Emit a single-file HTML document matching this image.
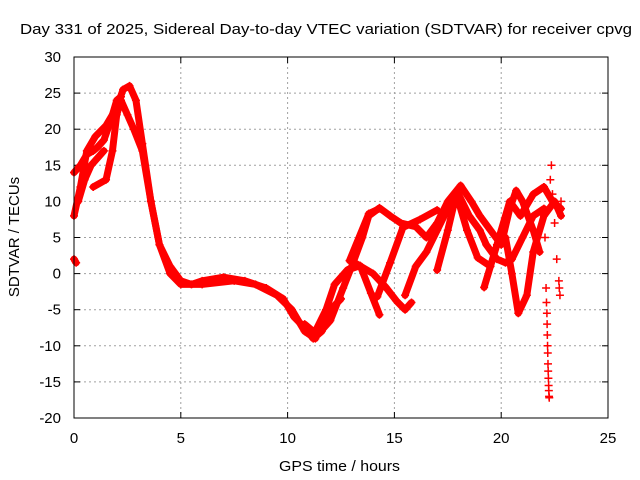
<!DOCTYPE html>
<html><head><meta charset="utf-8"><style>
body{margin:0;background:#fff;}
svg{display:block;font-family:"Liberation Sans",sans-serif;}
</style></head><body>
<svg id="chart" width="640" height="480">
<text x="20" y="34" font-size="15" textLength="612" lengthAdjust="spacingAndGlyphs">Day 331 of 2025, Sidereal Day-to-day VTEC variation (SDTVAR) for receiver cpvg</text>
<text x="279" y="471" font-size="15" textLength="121" lengthAdjust="spacingAndGlyphs">GPS time / hours</text>
<text transform="translate(19,237) rotate(-90)" font-size="15" text-anchor="middle">SDTVAR / TECUs</text>
<g id="grid"></g><g id="ticks"></g><g id="marks"></g>
<rect x="74" y="57" width="534" height="361" fill="none" stroke="#000" stroke-width="1"/>
</svg>
<script>
const xTicks=[0,5,10,15,20,25];
const yTicks=[30,25,20,15,10,5,0,-5,-10,-15,-20];
const trackA=[[0,8],[0.3,12],[0.6,17],[1,19],[1.5,20.5],[2,23],[2.3,25.5],[2.6,26],[2.9,24],[3.2,18],[3.6,10],[4,4],[4.5,1],[5,-1],[5.5,-1.5],[6,-1],[7,-0.5],[8,-1],[9,-2],[9.8,-3.5],[10.3,-6],[10.8,-7.5],[11.2,-9],[11.6,-8],[12,-5],[12.5,-3.5]];
const trackB=[[0.9,12],[1.5,13],[1.8,17],[2,22],[2.2,24],[2.5,22],[2.8,20],[3.2,17],[3.6,10],[4,4],[4.5,0],[5,-1.5],[6,-1.5],[7.5,-1],[8.5,-1.5],[9.5,-3],[10.2,-5],[10.8,-8],[11.3,-9]];
const trackC=[[0.2,10],[0.5,13],[0.8,15],[1.1,16],[1.4,17]];
const trackD=[[0,14],[0.3,15],[0.6,16.5],[0.9,17],[1.1,17.5],[1.4,18.5],[1.7,21],[2,24],[2.2,24.5]];
const trackE=[[10.8,-7],[11.4,-8.5],[12,-6.5],[12.6,-2],[13,1],[13.5,5],[13.8,8],[14.3,9.1],[14.8,8],[15.3,7],[16,6.5],[16.5,5],[17,7],[17.5,10],[18.1,12.2],[18.6,10],[19,8],[19.5,6],[20,4],[20.4,9],[20.7,11.5],[21,10],[21.5,6],[21.8,3]];
const trackF=[[11.3,-8],[11.8,-5],[12.2,-1.5],[12.8,0.5],[13.4,1.1],[13.9,-2.7],[14.3,-5.7]];
const trackG=[[12.9,1.8],[13.8,8.3],[14.3,9]];
const trackH=[[14.2,-3.2],[14.8,1.5],[15.4,6.4],[16.2,7.5],[17,8.8]];
const trackI=[[13.2,1.4],[14,0],[14.6,-1.9],[15.1,-3.8],[15.5,-5],[15.8,-4]];
const trackJ=[[15.5,-3],[16,1],[16.5,3],[17,6],[17.5,9],[18,11],[18.5,8],[19,6],[19.3,4],[19.8,2],[20.2,1.5],[20.5,2],[21,5],[21.5,8],[22,9]];
const trackK=[[17,0.5],[17.5,6],[17.9,11],[18.4,6],[18.9,2.2],[19.5,1]];
const trackL=[[20.2,5],[20.5,0],[20.8,-5.5],[21.2,-3],[21.5,3],[22,8],[22.5,10],[22.8,8]];
const trackM=[[19.2,-1.9],[19.8,4],[20.4,10],[20.9,8],[21.5,11],[22,12],[22.4,10],[22.8,9]];
const trackN=[[0,2],[0.1,1.5]];
const spikeX=[22.0,22.05,22.1,22.12,22.14,22.15,22.16,22.17,22.18,22.19,22.2,22.21,22.22,22.23,22.24,22.25,22.3,22.35,22.4,22.5,22.6,22.7,22.72,22.75,22.8];
const spikeY=[12,5,-2,-4,-5.5,-7,-8.5,-10,-11,-12.5,-13.5,-14.5,-15.5,-16.2,-17,-17.2,13,15,11,7,2,-1,-2,-3,10];
const tracks=[trackA,trackB,trackC,trackD,trackE,trackF,trackG,trackH,trackI,trackJ,trackK,trackL,trackM,trackN];
const X=v=>74+v*534/25, Y=v=>418-(v+20)*361/50;
const NS="http://www.w3.org/2000/svg";
const mk=(t,a,p)=>{const e=document.createElementNS(NS,t);for(const k in a)e.setAttribute(k,a[k]);p.appendChild(e);return e;};
const grid=document.getElementById('grid'),ticks=document.getElementById('ticks'),marks=document.getElementById('marks');
xTicks.forEach(t=>{
  if(t>0&&t<25){const g=mk('line',{x1:X(t),x2:X(t),y1:57,y2:418,stroke:'#a0a0a0','stroke-dasharray':'2,3'},grid);
  
  }
  mk('line',{x1:X(t),x2:X(t),y1:418,y2:412,stroke:'#000'},ticks);
  mk('line',{x1:X(t),x2:X(t),y1:57,y2:63,stroke:'#000'},ticks);
  const l=mk('text',{x:X(t),y:443,'font-size':15,'text-anchor':'middle'},ticks);l.textContent=t;
  
  
});
yTicks.forEach(t=>{
  if(t>-20&&t<30){const g=mk('line',{x1:74,x2:608,y1:Y(t),y2:Y(t),stroke:'#a0a0a0','stroke-dasharray':'2,3'},grid);
  
  }
  mk('line',{x1:74,x2:80,y1:Y(t),y2:Y(t),stroke:'#000'},ticks);
  mk('line',{x1:608,x2:602,y1:Y(t),y2:Y(t),stroke:'#000'},ticks);
  const l=mk('text',{x:61,y:Y(t)+5,'font-size':15,'text-anchor':'end'},ticks);l.textContent=t;
  
  
});
function plus(x,y){const p=mk('path',{d:`M${x-4},${y}h8M${x},${y-4}v8`,stroke:'#f00','stroke-width':1.5,fill:'none'},marks);
  
  }
tracks.forEach(tr=>{
  const pl=mk('polyline',{points:tr.map(p=>X(p[0])+','+Y(p[1])).join(' '),fill:'none',stroke:'#f00','stroke-width':7,'stroke-linejoin':'round','stroke-linecap':'round'},marks);
  
  
  tr.forEach(p=>plus(X(p[0]),Y(p[1])));
});
spikeX.forEach((x,i)=>plus(X(x),Y(spikeY[i])));
</script>
</body></html>
